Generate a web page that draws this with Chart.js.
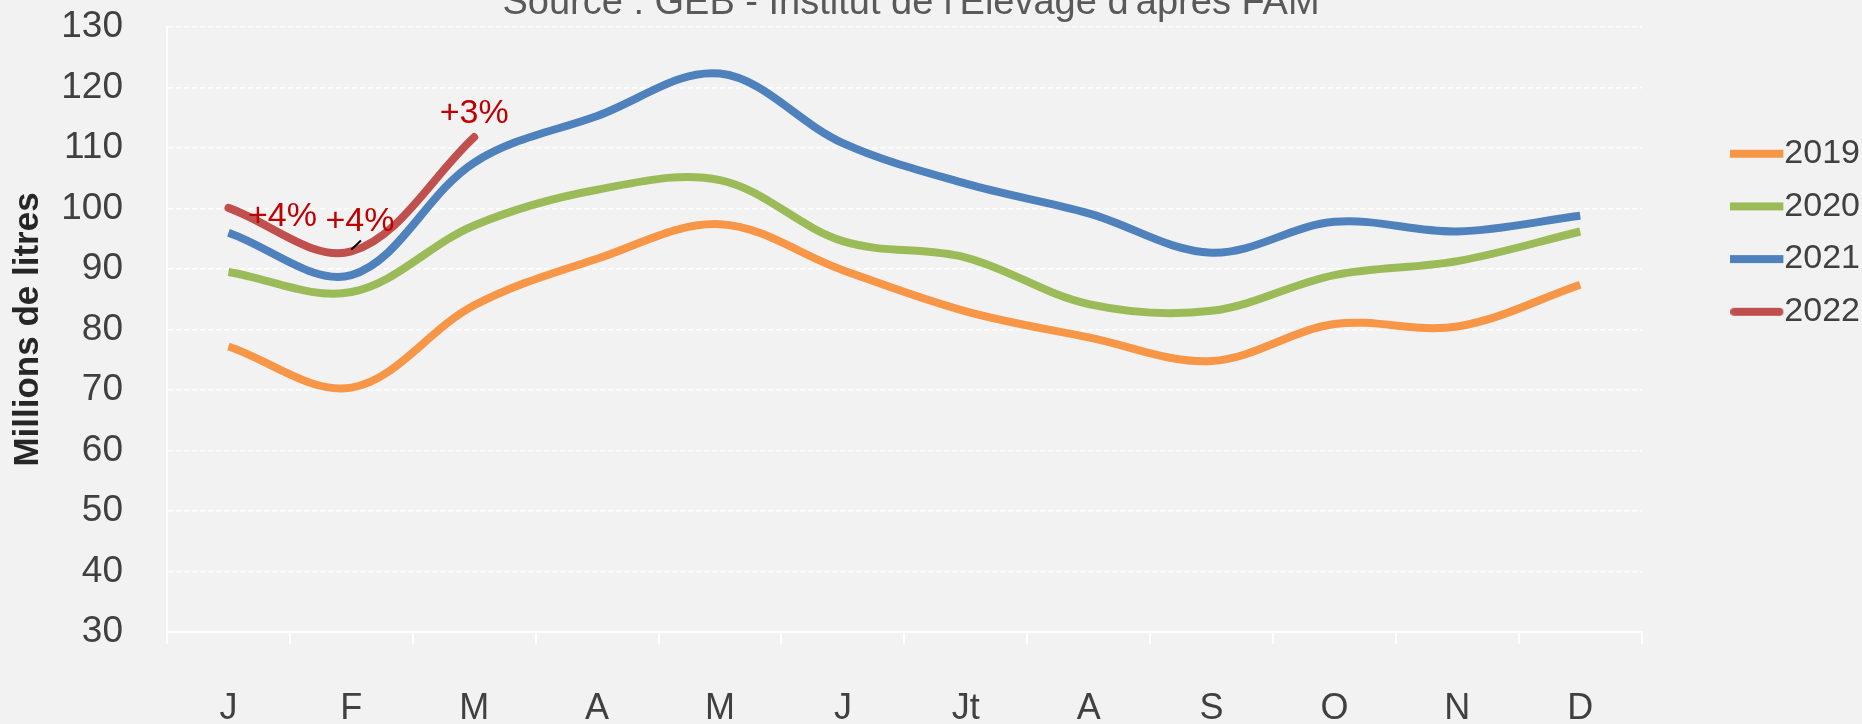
<!DOCTYPE html>
<html>
<head>
<meta charset="utf-8">
<script src="https://cdn.jsdelivr.net/npm/chart.js@4.4.1/dist/chart.umd.min.js"></script>
<style>
  html, body { margin: 0; padding: 0; background: #f2f2f2; overflow: hidden; }
  #wrap { position: relative; width: 1862px; height: 724px; overflow: hidden; }
</style>
</head>
<body>
<div id="wrap"><canvas id="milkChart" width="1870" height="724"></canvas></div>
<script>
// months and yearly volumes (millions de litres)
const months = ["J", "F", "M", "A", "M", "J", "Jt", "A", "S", "O", "N", "D"];
const years = ["2019", "2020", "2021", "2022"];
const vol2019 = [77.2, 70.4, 84.0, 91.7, 97.4, 89.8, 83.0, 78.7, 74.8, 80.9, 80.5, 87.4];
const vol2020 = [89.5, 86.2, 97.2, 103.1, 104.7, 94.6, 91.9, 84.2, 83.1, 89.0, 91.3, 96.2];
const vol2021 = [96.0, 89.0, 107.6, 115.3, 122.3, 110.8, 104.1, 99.2, 92.7, 97.8, 96.2, 98.8];
const vol2022 = [100.1, 92.9, 111.8];
const yMin = 30;
const yMax = 130;
const yStep = 10;

// evolution labels on 2022 (x = month index, y = value)
const noteText = ["+4%", "+4%", "+3%"];
const noteX = [0.44, 1.07, 2];
const noteY = [98.7, 97.9, 115.6];
// little leader stroke under the second label (month index / value)
const leaderX = [1.0, 1.078];
const leaderY = [93.2, 94.7];

const sourceText = "Source : GEB - Institut de l'Elevage d'après FAM";

const colors = ["#F79646", "#9BBB59", "#4F81BD", "#C0504D"];
const caps = ["butt", "butt", "butt", "round"];
const FONT = "'Liberation Sans', Arial, sans-serif";
const TXT = "#404040";

// legend swatch: a short thick line that runs right up to the label
function swatch(color, cap) {
  const c = document.createElement("canvas");
  c.width = 54;
  c.height = 10;
  const g = c.getContext("2d");
  g.strokeStyle = color;
  g.lineWidth = 8;
  g.lineCap = cap;
  g.beginPath();
  g.moveTo(cap == "round" ? 4 : 0, 5);
  g.lineTo(cap == "round" ? 49 : 53, 5);
  g.stroke();
  return c;
}
const swatches = colors.map((c, i) => swatch(c, caps[i]));

const sourcePlugin = {
  id: "sourceText",
  afterDraw(chart) {
    const ctx = chart.ctx;
    ctx.save();
    ctx.font = "38px " + FONT;
    ctx.fillStyle = "#595959";
    ctx.textAlign = "center";
    ctx.textBaseline = "alphabetic";
    ctx.fillText(sourceText, 911, 14);
    ctx.restore();
  }
};

const notesPlugin = {
  id: "notes",
  afterDatasetsDraw(chart) {
    const ctx = chart.ctx;
    const xs = chart.scales.x;
    const ys = chart.scales.y;
    ctx.save();
    ctx.strokeStyle = "#000000";
    ctx.lineWidth = 2;
    ctx.beginPath();
    ctx.moveTo(xs.getPixelForValue(leaderX[0]), ys.getPixelForValue(leaderY[0]));
    ctx.lineTo(xs.getPixelForValue(leaderX[1]), ys.getPixelForValue(leaderY[1]));
    ctx.stroke();
    ctx.font = "34px " + FONT;
    ctx.fillStyle = "#C00000";
    ctx.textAlign = "center";
    ctx.textBaseline = "middle";
    noteText.forEach((t, i) => {
      ctx.fillText(t, xs.getPixelForValue(noteX[i]), ys.getPixelForValue(noteY[i]));
    });
    ctx.restore();
  }
};

const series = [vol2019, vol2020, vol2021, vol2022];

const ctx = document.getElementById("milkChart").getContext("2d");
const chart = new Chart(ctx, {
  type: "line",
  data: {
    labels: months,
    datasets: series.map((d, i) => ({
      label: years[i],
      data: d,
      borderColor: colors[i],
      backgroundColor: colors[i],
      borderWidth: 8,
      borderCapStyle: caps[i],
      pointRadius: 0,
      pointHoverRadius: 0,
      tension: 0.35,
      fill: false
    }))
  },
  options: {
    responsive: false,
    devicePixelRatio: 1,
    animation: false,
    layout: { padding: { top: 27, left: 0, right: 0, bottom: 0 } },
    plugins: {
      tooltip: { enabled: false },
      legend: {
        position: "right",
        align: "start",
        title: { display: true, text: " ", font: { size: 10 }, padding: { top: 79, bottom: 0 } },
        labels: {
          usePointStyle: true,
          pointStyleWidth: 20,
          padding: 18.7,
          color: TXT,
          font: { family: FONT, size: 34 },
          generateLabels(chart) {
            const items = Chart.defaults.plugins.legend.labels.generateLabels(chart);
            items.forEach((it, i) => { it.pointStyle = swatches[i]; });
            return items;
          }
        }
      }
    },
    scales: {
      x: {
        offset: true,
        grid: {
          offset: true,
          drawOnChartArea: false,
          drawTicks: true,
          tickLength: 12,
          color: "#ffffff",
          lineWidth: 2
        },
        border: { display: true, color: "#ffffff", width: 2 },
        ticks: { color: TXT, font: { family: FONT, size: 36 }, padding: 43, maxRotation: 0, autoSkip: false },
        afterFit(s) { s.height = 92; }
      },
      y: {
        min: yMin,
        max: yMax,
        grid: { color: "#ffffff", lineWidth: 1.5, drawTicks: false },
        border: { display: true, color: "#ffffff", width: 2, dash: [5, 3] },
        ticks: { stepSize: yStep, color: TXT, font: { family: FONT, size: 37 }, padding: 44 },
        title: {
          display: true,
          text: "Millions de litres",
          color: "#262626",
          font: { family: FONT, size: 35, weight: "bold" },
          padding: { top: 7, bottom: 0 }
        },
        afterFit(s) {
          s.width = 167;
          s.paddingTop = 0;
          s.paddingBottom = 0;
        }
      },
      y2: {
        position: "right",
        display: true,
        grid: { display: false },
        border: { display: false },
        ticks: { display: false },
        afterFit(s) { s.width = 87; }
      }
    }
  },
  plugins: [sourcePlugin, notesPlugin]
});
</script>
</body>
</html>
